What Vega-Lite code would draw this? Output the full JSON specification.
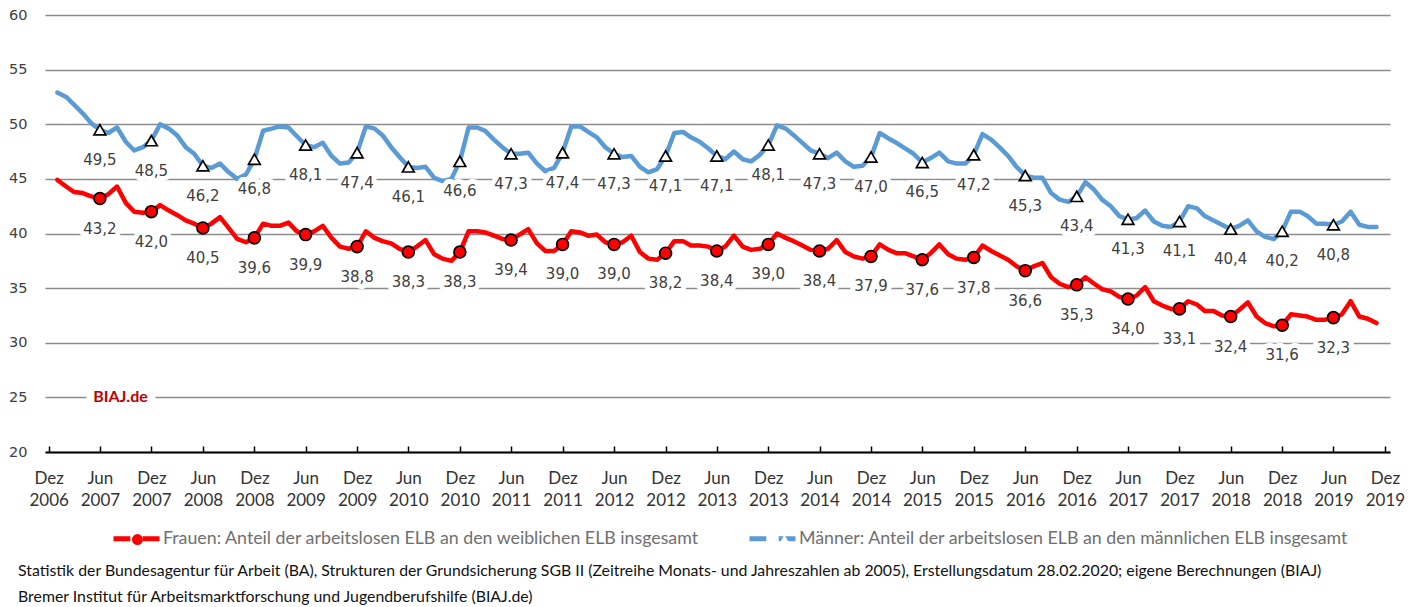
{
  "$schema": "https://vega.github.io/schema/vega-lite/v6.json",
  "width": 1345,
  "height": 437,
  "autosize": {"type": "none"},
  "padding": {"left": 45, "top": 15, "right": 32, "bottom": 155},
  "background": "white",
  "config": {
    "view": {"stroke": null},
    "locale": {"number": {"decimal": ",", "thousands": ".", "grouping": [3], "currency": ["", " €"]}}
  },
  "title": {
    "text": [
      "Statistik der Bundesagentur für Arbeit (BA), Strukturen der Grundsicherung SGB II (Zeitreihe Monats- und Jahreszahlen ab 2005), Erstellungsdatum 28.02.2020; eigene Berechnungen (BIAJ)",
      "Bremer Institut für Arbeitsmarktforschung und Jugendberufshilfe (BIAJ.de)"
    ],
    "orient": "bottom",
    "anchor": "start",
    "frame": "group",
    "dx": -27,
    "offset": 14,
    "font": "Lato",
    "fontSize": 15.85,
    "fontWeight": "normal",
    "color": "#111111",
    "lineHeight": 26
  },
  "data": {
    "format": {"parse": {"monat": "utc:'%Y-%m'"}},
    "values": [
      {"monat": "2007-01", "Frauen": 44.9, "Männer": 52.9},
      {"monat": "2007-02", "Frauen": 44.3, "Männer": 52.5},
      {"monat": "2007-03", "Frauen": 43.8, "Männer": 51.8},
      {"monat": "2007-04", "Frauen": 43.7, "Männer": 51.0},
      {"monat": "2007-05", "Frauen": 43.4, "Männer": 50.1},
      {"monat": "2007-06", "Frauen": 43.2, "Männer": 49.5},
      {"monat": "2007-07", "Frauen": 43.6, "Männer": 49.2},
      {"monat": "2007-08", "Frauen": 44.3, "Männer": 49.7},
      {"monat": "2007-09", "Frauen": 42.8, "Männer": 48.4},
      {"monat": "2007-10", "Frauen": 42.0, "Männer": 47.6},
      {"monat": "2007-11", "Frauen": 41.9, "Männer": 47.9},
      {"monat": "2007-12", "Frauen": 42.0, "Männer": 48.5},
      {"monat": "2008-01", "Frauen": 42.6, "Männer": 50.0},
      {"monat": "2008-02", "Frauen": 42.1, "Männer": 49.6},
      {"monat": "2008-03", "Frauen": 41.7, "Männer": 49.0},
      {"monat": "2008-04", "Frauen": 41.2, "Männer": 47.9},
      {"monat": "2008-05", "Frauen": 40.9, "Männer": 47.3},
      {"monat": "2008-06", "Frauen": 40.5, "Männer": 46.2},
      {"monat": "2008-07", "Frauen": 40.9, "Männer": 46.0},
      {"monat": "2008-08", "Frauen": 41.5, "Männer": 46.4},
      {"monat": "2008-09", "Frauen": 40.5, "Männer": 45.6},
      {"monat": "2008-10", "Frauen": 39.5, "Männer": 45.0},
      {"monat": "2008-11", "Frauen": 39.2, "Männer": 45.4},
      {"monat": "2008-12", "Frauen": 39.6, "Männer": 46.8},
      {"monat": "2009-01", "Frauen": 40.9, "Männer": 49.4},
      {"monat": "2009-02", "Frauen": 40.7, "Männer": 49.6},
      {"monat": "2009-03", "Frauen": 40.7, "Männer": 49.8},
      {"monat": "2009-04", "Frauen": 41.0, "Männer": 49.7},
      {"monat": "2009-05", "Frauen": 40.2, "Männer": 48.9},
      {"monat": "2009-06", "Frauen": 39.9, "Männer": 48.1},
      {"monat": "2009-07", "Frauen": 40.2, "Männer": 47.9},
      {"monat": "2009-08", "Frauen": 40.7, "Männer": 48.3},
      {"monat": "2009-09", "Frauen": 39.6, "Männer": 47.1},
      {"monat": "2009-10", "Frauen": 38.8, "Männer": 46.4},
      {"monat": "2009-11", "Frauen": 38.6, "Männer": 46.5},
      {"monat": "2009-12", "Frauen": 38.8, "Männer": 47.4},
      {"monat": "2010-01", "Frauen": 40.2, "Männer": 49.8},
      {"monat": "2010-02", "Frauen": 39.6, "Männer": 49.6},
      {"monat": "2010-03", "Frauen": 39.3, "Männer": 49.0},
      {"monat": "2010-04", "Frauen": 39.1, "Männer": 47.9},
      {"monat": "2010-05", "Frauen": 38.6, "Männer": 47.0},
      {"monat": "2010-06", "Frauen": 38.3, "Männer": 46.1},
      {"monat": "2010-07", "Frauen": 38.8, "Männer": 46.0},
      {"monat": "2010-08", "Frauen": 39.4, "Männer": 46.1},
      {"monat": "2010-09", "Frauen": 38.1, "Männer": 45.1},
      {"monat": "2010-10", "Frauen": 37.7, "Männer": 44.8},
      {"monat": "2010-11", "Frauen": 37.5, "Männer": 45.0},
      {"monat": "2010-12", "Frauen": 38.3, "Männer": 46.6},
      {"monat": "2011-01", "Frauen": 40.2, "Männer": 49.7},
      {"monat": "2011-02", "Frauen": 40.2, "Männer": 49.7},
      {"monat": "2011-03", "Frauen": 40.1, "Männer": 49.4},
      {"monat": "2011-04", "Frauen": 39.8, "Männer": 48.6},
      {"monat": "2011-05", "Frauen": 39.5, "Männer": 47.9},
      {"monat": "2011-06", "Frauen": 39.4, "Männer": 47.3},
      {"monat": "2011-07", "Frauen": 39.9, "Männer": 47.3},
      {"monat": "2011-08", "Frauen": 40.4, "Männer": 47.4},
      {"monat": "2011-09", "Frauen": 39.1, "Männer": 46.4},
      {"monat": "2011-10", "Frauen": 38.4, "Männer": 45.7},
      {"monat": "2011-11", "Frauen": 38.4, "Männer": 46.0},
      {"monat": "2011-12", "Frauen": 39.0, "Männer": 47.4},
      {"monat": "2012-01", "Frauen": 40.2, "Männer": 49.8},
      {"monat": "2012-02", "Frauen": 40.1, "Männer": 49.8},
      {"monat": "2012-03", "Frauen": 39.8, "Männer": 49.3},
      {"monat": "2012-04", "Frauen": 39.9, "Männer": 48.8},
      {"monat": "2012-05", "Frauen": 39.2, "Männer": 47.9},
      {"monat": "2012-06", "Frauen": 39.0, "Männer": 47.3},
      {"monat": "2012-07", "Frauen": 39.2, "Männer": 47.0},
      {"monat": "2012-08", "Frauen": 39.8, "Männer": 47.1},
      {"monat": "2012-09", "Frauen": 38.3, "Männer": 46.1},
      {"monat": "2012-10", "Frauen": 37.7, "Männer": 45.6},
      {"monat": "2012-11", "Frauen": 37.6, "Männer": 45.9},
      {"monat": "2012-12", "Frauen": 38.2, "Männer": 47.1},
      {"monat": "2013-01", "Frauen": 39.3, "Männer": 49.2},
      {"monat": "2013-02", "Frauen": 39.3, "Männer": 49.3},
      {"monat": "2013-03", "Frauen": 38.9, "Männer": 48.8},
      {"monat": "2013-04", "Frauen": 38.9, "Männer": 48.4},
      {"monat": "2013-05", "Frauen": 38.8, "Männer": 47.8},
      {"monat": "2013-06", "Frauen": 38.4, "Männer": 47.1},
      {"monat": "2013-07", "Frauen": 38.8, "Männer": 46.8},
      {"monat": "2013-08", "Frauen": 39.8, "Männer": 47.5},
      {"monat": "2013-09", "Frauen": 38.8, "Männer": 46.8},
      {"monat": "2013-10", "Frauen": 38.5, "Männer": 46.6},
      {"monat": "2013-11", "Frauen": 38.6, "Männer": 47.2},
      {"monat": "2013-12", "Frauen": 39.0, "Männer": 48.1},
      {"monat": "2014-01", "Frauen": 40.0, "Männer": 49.9},
      {"monat": "2014-02", "Frauen": 39.6, "Männer": 49.6},
      {"monat": "2014-03", "Frauen": 39.3, "Männer": 49.0},
      {"monat": "2014-04", "Frauen": 38.9, "Männer": 48.3},
      {"monat": "2014-05", "Frauen": 38.5, "Männer": 47.6},
      {"monat": "2014-06", "Frauen": 38.4, "Männer": 47.3},
      {"monat": "2014-07", "Frauen": 38.6, "Männer": 46.9},
      {"monat": "2014-08", "Frauen": 39.4, "Männer": 47.4},
      {"monat": "2014-09", "Frauen": 38.3, "Männer": 46.6},
      {"monat": "2014-10", "Frauen": 37.9, "Männer": 46.1},
      {"monat": "2014-11", "Frauen": 37.7, "Männer": 46.2},
      {"monat": "2014-12", "Frauen": 37.9, "Männer": 47.0},
      {"monat": "2015-01", "Frauen": 39.0, "Männer": 49.2},
      {"monat": "2015-02", "Frauen": 38.5, "Männer": 48.7},
      {"monat": "2015-03", "Frauen": 38.2, "Männer": 48.3},
      {"monat": "2015-04", "Frauen": 38.2, "Männer": 47.8},
      {"monat": "2015-05", "Frauen": 37.9, "Männer": 47.3},
      {"monat": "2015-06", "Frauen": 37.6, "Männer": 46.5},
      {"monat": "2015-07", "Frauen": 38.2, "Männer": 46.9},
      {"monat": "2015-08", "Frauen": 39.0, "Männer": 47.4},
      {"monat": "2015-09", "Frauen": 38.1, "Männer": 46.6},
      {"monat": "2015-10", "Frauen": 37.7, "Männer": 46.4},
      {"monat": "2015-11", "Frauen": 37.6, "Männer": 46.4},
      {"monat": "2015-12", "Frauen": 37.8, "Männer": 47.2},
      {"monat": "2016-01", "Frauen": 38.9, "Männer": 49.1},
      {"monat": "2016-02", "Frauen": 38.4, "Männer": 48.6},
      {"monat": "2016-03", "Frauen": 38.0, "Männer": 47.9},
      {"monat": "2016-04", "Frauen": 37.6, "Männer": 47.1},
      {"monat": "2016-05", "Frauen": 37.0, "Männer": 46.1},
      {"monat": "2016-06", "Frauen": 36.6, "Männer": 45.3},
      {"monat": "2016-07", "Frauen": 37.0, "Männer": 45.1},
      {"monat": "2016-08", "Frauen": 37.3, "Männer": 45.1},
      {"monat": "2016-09", "Frauen": 36.0, "Männer": 43.7},
      {"monat": "2016-10", "Frauen": 35.4, "Männer": 43.1},
      {"monat": "2016-11", "Frauen": 35.1, "Männer": 42.9},
      {"monat": "2016-12", "Frauen": 35.3, "Männer": 43.4},
      {"monat": "2017-01", "Frauen": 36.0, "Männer": 44.7},
      {"monat": "2017-02", "Frauen": 35.4, "Männer": 44.0},
      {"monat": "2017-03", "Frauen": 34.9, "Männer": 43.1},
      {"monat": "2017-04", "Frauen": 34.7, "Männer": 42.5},
      {"monat": "2017-05", "Frauen": 34.2, "Männer": 41.6},
      {"monat": "2017-06", "Frauen": 34.0, "Männer": 41.3},
      {"monat": "2017-07", "Frauen": 34.3, "Männer": 41.4},
      {"monat": "2017-08", "Frauen": 35.1, "Männer": 42.1},
      {"monat": "2017-09", "Frauen": 33.8, "Männer": 41.1},
      {"monat": "2017-10", "Frauen": 33.4, "Männer": 40.7},
      {"monat": "2017-11", "Frauen": 33.1, "Männer": 40.6},
      {"monat": "2017-12", "Frauen": 33.1, "Männer": 41.1},
      {"monat": "2018-01", "Frauen": 33.8, "Männer": 42.5},
      {"monat": "2018-02", "Frauen": 33.5, "Männer": 42.3},
      {"monat": "2018-03", "Frauen": 32.9, "Männer": 41.6},
      {"monat": "2018-04", "Frauen": 32.9, "Männer": 41.2},
      {"monat": "2018-05", "Frauen": 32.5, "Männer": 40.8},
      {"monat": "2018-06", "Frauen": 32.4, "Männer": 40.4},
      {"monat": "2018-07", "Frauen": 33.0, "Männer": 40.7},
      {"monat": "2018-08", "Frauen": 33.7, "Männer": 41.2},
      {"monat": "2018-09", "Frauen": 32.4, "Männer": 40.2},
      {"monat": "2018-10", "Frauen": 31.8, "Männer": 39.7},
      {"monat": "2018-11", "Frauen": 31.5, "Männer": 39.5},
      {"monat": "2018-12", "Frauen": 31.6, "Männer": 40.2},
      {"monat": "2019-01", "Frauen": 32.6, "Männer": 42.0},
      {"monat": "2019-02", "Frauen": 32.5, "Männer": 42.0},
      {"monat": "2019-03", "Frauen": 32.4, "Männer": 41.6},
      {"monat": "2019-04", "Frauen": 32.1, "Männer": 40.9},
      {"monat": "2019-05", "Frauen": 32.1, "Männer": 40.9},
      {"monat": "2019-06", "Frauen": 32.3, "Männer": 40.8},
      {"monat": "2019-07", "Frauen": 32.6, "Männer": 41.1},
      {"monat": "2019-08", "Frauen": 33.8, "Männer": 42.0},
      {"monat": "2019-09", "Frauen": 32.4, "Männer": 40.8},
      {"monat": "2019-10", "Frauen": 32.2, "Männer": 40.6},
      {"monat": "2019-11", "Frauen": 31.8, "Männer": 40.6}
    ]
  },
  "transform": [{"fold": ["Frauen", "Männer"], "as": ["serie", "wert"]}],
  "encoding": {
    "x": {
      "field": "monat",
      "type": "temporal",
      "scale": {
        "type": "utc",
        "nice": false,
        "domain": [
          {"year": 2006, "month": 11, "date": 18, "utc": true},
          {"year": 2019, "month": 12, "date": 19, "utc": true}
        ]
      },
      "axis": {
        "title": null,
        "values": [
          {"year": 2006, "month": 12, "date": 1, "utc": true},
          {"year": 2007, "month": 6, "date": 1, "utc": true},
          {"year": 2007, "month": 12, "date": 1, "utc": true},
          {"year": 2008, "month": 6, "date": 1, "utc": true},
          {"year": 2008, "month": 12, "date": 1, "utc": true},
          {"year": 2009, "month": 6, "date": 1, "utc": true},
          {"year": 2009, "month": 12, "date": 1, "utc": true},
          {"year": 2010, "month": 6, "date": 1, "utc": true},
          {"year": 2010, "month": 12, "date": 1, "utc": true},
          {"year": 2011, "month": 6, "date": 1, "utc": true},
          {"year": 2011, "month": 12, "date": 1, "utc": true},
          {"year": 2012, "month": 6, "date": 1, "utc": true},
          {"year": 2012, "month": 12, "date": 1, "utc": true},
          {"year": 2013, "month": 6, "date": 1, "utc": true},
          {"year": 2013, "month": 12, "date": 1, "utc": true},
          {"year": 2014, "month": 6, "date": 1, "utc": true},
          {"year": 2014, "month": 12, "date": 1, "utc": true},
          {"year": 2015, "month": 6, "date": 1, "utc": true},
          {"year": 2015, "month": 12, "date": 1, "utc": true},
          {"year": 2016, "month": 6, "date": 1, "utc": true},
          {"year": 2016, "month": 12, "date": 1, "utc": true},
          {"year": 2017, "month": 6, "date": 1, "utc": true},
          {"year": 2017, "month": 12, "date": 1, "utc": true},
          {"year": 2018, "month": 6, "date": 1, "utc": true},
          {"year": 2018, "month": 12, "date": 1, "utc": true},
          {"year": 2019, "month": 6, "date": 1, "utc": true},
          {"year": 2019, "month": 12, "date": 1, "utc": true}
        ],
        "labelExpr": "[utcmonth(datum.value) == 11 ? 'Dez' : 'Jun', '' + utcyear(datum.value)]",
        "labelFont": "Lato",
        "labelFontSize": 17,
        "labelColor": "#333333",
        "labelLineHeight": 22,
        "labelPadding": 24,
        "labelAngle": 0,
        "labelOverlap": false,
        "labelFlush": false,
        "tickSize": -6,
        "tickWidth": 1.5,
        "tickColor": "#000000",
        "domainColor": "#000000",
        "domainWidth": 2,
        "grid": false
      }
    },
    "y": {
      "field": "wert",
      "type": "quantitative",
      "scale": {"domain": [20, 60], "nice": false, "zero": false},
      "axis": {
        "title": null,
        "values": [20, 25, 30, 35, 40, 45, 50, 55, 60],
        "grid": true,
        "gridColor": "#8c8c8c",
        "gridWidth": 1.5,
        "domain": false,
        "ticks": false,
        "labelFont": "DejaVu Sans",
        "labelFontSize": 14.5,
        "labelColor": "#404040",
        "labelPadding": 18
      }
    }
  },
  "layer": [
    {
      "mark": {"type": "line", "strokeWidth": 4.5, "strokeJoin": "round", "strokeCap": "round"},
      "encoding": {
        "color": {
          "field": "serie",
          "type": "nominal",
          "scale": {"range": ["#FF0000", "#5B9BD5"]},
          "legend": {
            "title": null,
            "orient": "none",
            "legendX": 66,
            "legendY": 498,
            "zindex": 0,
            "direction": "horizontal",
            "padding": 0,
            "symbolType": "M-1,0H-0.27M0.27,0H1",
            "symbolSize": 2116,
            "symbolStrokeWidth": 5,
            "symbolFillColor": "transparent",
            "labelFont": "Lato",
            "labelFontSize": 17.8,
            "labelColor": "#6f6f6f",
            "labelOffset": 1,
            "labelLimit": 0,
            "columnPadding": 39,
            "labelExpr": "datum.label == 'Frauen' ? 'Frauen: Anteil der arbeitslosen ELB an den weiblichen ELB insgesamt' : 'Männer: Anteil der arbeitslosen ELB an den männlichen ELB insgesamt'"
          }
        }
      }
    },
    {
      "transform": [{"filter": "utcmonth(datum.monat) == 5 || utcmonth(datum.monat) == 11"}],
      "mark": {"type": "point", "filled": true, "stroke": "#000000", "strokeWidth": 1.7, "size": 140, "opacity": 1},
      "encoding": {
        "fill": {
          "field": "serie",
          "type": "nominal",
          "scale": {"range": ["#FF0000", "#FFFFFF"]},
          "legend": {
            "title": null,
            "orient": "none",
            "legendX": 66,
            "legendY": 515.5,
            "zindex": 5,
            "direction": "horizontal",
            "padding": 0,
            "symbolSize": 120,
            "symbolOffset": 17.52,
            "symbolStrokeColor": "#000000",
            "symbolStrokeWidth": 1.6,
            "labelFont": "Lato",
            "labelFontSize": 17.8,
            "labelOpacity": 0,
            "labelOffset": 36.05,
            "labelLimit": 0,
            "columnPadding": 39,
            "labelExpr": "datum.label == 'Frauen' ? 'Frauen: Anteil der arbeitslosen ELB an den weiblichen ELB insgesamt' : 'Männer: Anteil der arbeitslosen ELB an den männlichen ELB insgesamt'"
          }
        },
        "shape": {
          "field": "serie",
          "type": "nominal",
          "scale": {"range": ["circle", "triangle-up"]},
          "legend": {
            "title": null,
            "orient": "none",
            "legendX": 66,
            "legendY": 515.5,
            "zindex": 5,
            "direction": "horizontal",
            "padding": 0,
            "symbolSize": 120,
            "symbolOffset": 17.52,
            "symbolStrokeColor": "#000000",
            "symbolStrokeWidth": 1.6,
            "labelFont": "Lato",
            "labelFontSize": 17.8,
            "labelOpacity": 0,
            "labelOffset": 36.05,
            "labelLimit": 0,
            "columnPadding": 39,
            "labelExpr": "datum.label == 'Frauen' ? 'Frauen: Anteil der arbeitslosen ELB an den weiblichen ELB insgesamt' : 'Männer: Anteil der arbeitslosen ELB an den männlichen ELB insgesamt'"
          }
        }
      }
    },
    {
      "transform": [{"filter": "utcmonth(datum.monat) == 5 || utcmonth(datum.monat) == 11"}],
      "mark": {"type": "text", "font": "DejaVu Sans", "fontSize": 15, "baseline": "middle", "dy": 30, "stroke": "#FFFFFF", "strokeWidth": 10, "strokeJoin": "round", "fill": "#FFFFFF"},
      "encoding": {"text": {"field": "wert", "type": "quantitative", "format": ".1f"}}
    },
    {
      "transform": [{"filter": "utcmonth(datum.monat) == 5 || utcmonth(datum.monat) == 11"}],
      "mark": {"type": "text", "font": "DejaVu Sans", "fontSize": 15, "baseline": "middle", "dy": 30, "fill": "#404040"},
      "encoding": {"text": {"field": "wert", "type": "quantitative", "format": ".1f"}}
    },
    {
      "transform": [{"filter": "utcyear(datum.monat) == 2007 && utcmonth(datum.monat) == 4 && datum.serie == 'Frauen'"}],
      "mark": {"type": "text", "text": "BIAJ.de", "font": "Lato", "fontSize": 16, "fontWeight": "bold", "align": "left", "baseline": "middle", "dx": 2, "stroke": "#FFFFFF", "strokeWidth": 16, "strokeJoin": "round", "fill": "#FFFFFF"},
      "encoding": {
        "y": {"datum": 25, "type": "quantitative"}
      }
    },
    {
      "transform": [{"filter": "utcyear(datum.monat) == 2007 && utcmonth(datum.monat) == 4 && datum.serie == 'Frauen'"}],
      "mark": {"type": "text", "text": "BIAJ.de", "font": "Lato", "fontSize": 16, "fontWeight": "bold", "align": "left", "baseline": "middle", "dx": 2, "fill": "#C00000"},
      "encoding": {
        "y": {"datum": 25, "type": "quantitative"}
      }
    }
  ]
}
